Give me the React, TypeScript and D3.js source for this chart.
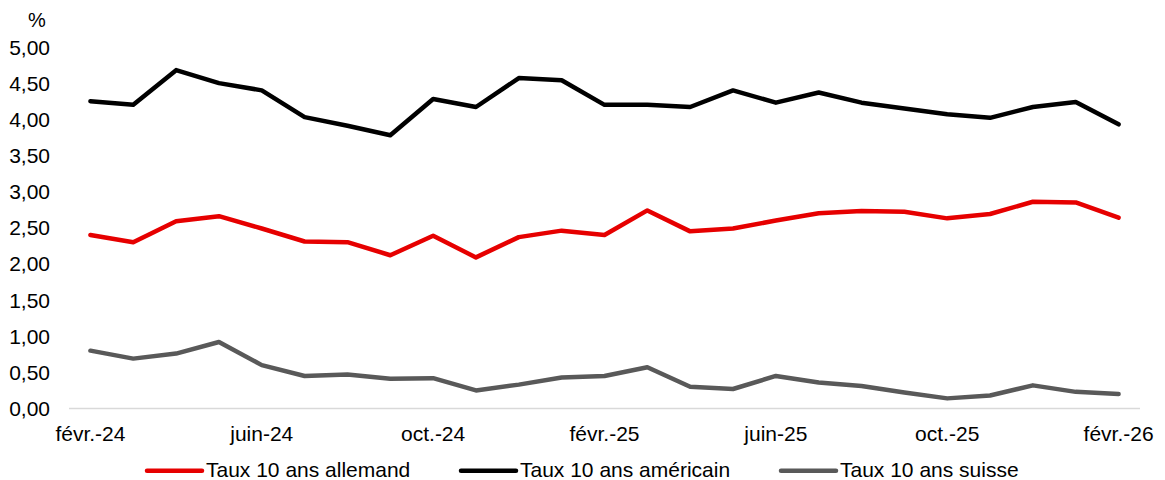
import React from "react";
import * as d3 from "d3";

const months: string[] = [
  "févr.-24", "mars-24", "avr.-24", "mai-24", "juin-24", "juil.-24", "août-24", "sept.-24",
  "oct.-24", "nov.-24", "déc.-24", "janv.-25", "févr.-25", "mars-25", "avr.-25", "mai-25",
  "juin-25", "juil.-25", "août-25", "sept.-25", "oct.-25", "nov.-25", "déc.-25", "janv.-26", "févr.-26",
];

const tauxAllemand: number[] = [
  2.40, 2.30, 2.59, 2.66, 2.49, 2.31, 2.30, 2.12, 2.39, 2.09, 2.37, 2.46, 2.40,
  2.74, 2.45, 2.49, 2.60, 2.70, 2.73, 2.72, 2.63, 2.69, 2.86, 2.85, 2.64,
];
const tauxAmericain: number[] = [
  4.25, 4.20, 4.68, 4.50, 4.40, 4.03, 3.91, 3.78, 4.28, 4.17, 4.57, 4.54, 4.20,
  4.20, 4.17, 4.40, 4.23, 4.37, 4.23, 4.15, 4.07, 4.02, 4.17, 4.24, 3.93,
];
const tauxSuisse: number[] = [
  0.80, 0.69, 0.76, 0.92, 0.60, 0.45, 0.47, 0.41, 0.42, 0.25, 0.33, 0.43, 0.45,
  0.57, 0.30, 0.27, 0.45, 0.36, 0.31, 0.22, 0.14, 0.18, 0.32, 0.23, 0.20,
];

const yTicks: number[] = [0, 0.5, 1, 1.5, 2, 2.5, 3, 3.5, 4, 4.5, 5];
const xTickLabels: string[] = ["févr.-24", "juin-24", "oct.-24", "févr.-25", "juin-25", "oct.-25", "févr.-26"];

const seriesNames: string[] = ["Taux 10 ans allemand", "Taux 10 ans américain", "Taux 10 ans suisse"];
const seriesColors: string[] = ["#e60000", "#000000", "#595959"];

const W = 1165;
const H = 480;
const FONT = "'Liberation Sans', Arial, sans-serif";

export default function App() {
  const series = [tauxAllemand, tauxAmericain, tauxSuisse];
  const x = d3.scaleBand<string>().domain(months).range([69, 1140]).padding(0);
  const y = d3.scaleLinear().domain([0, 5]).range([408.5, 47]);
  const cx = (m: string) => (x(m) ?? 0) + x.bandwidth() / 2;
  const fmt = (v: number) => v.toFixed(2).replace(".", ",");

  const line = d3
    .line<number>()
    .x((_, i) => cx(months[i]))
    .y((d) => y(d));

  const legendItems = [
    { lx: 147, tx: 206 },
    { lx: 461, tx: 520 },
    { lx: 781, tx: 840 },
  ];

  return (
    <svg width={W} height={H} style={{ position: "absolute", left: 0, top: 0 }} fontFamily={FONT}>
      <rect width={W} height={H} fill="#ffffff" />
      <text x={37} y={27} fontSize={20} textAnchor="middle" fill="#000">%</text>
      {yTicks.map((t) => (
        <text key={t} x={50} y={y(t) + 7.5} fontSize={21} textAnchor="end" fill="#000">
          {fmt(t)}
        </text>
      ))}
      <line x1={69} x2={1140} y1={y(0)} y2={y(0)} stroke="#d9d9d9" strokeWidth={1.5} />
      {xTickLabels.map((m) => (
        <text key={m} x={cx(m)} y={441} fontSize={21} textAnchor="middle" fill="#000">
          {m}
        </text>
      ))}
      {series.map((s, i) => (
        <path
          key={seriesNames[i]}
          d={line(s) ?? ""}
          fill="none"
          stroke={seriesColors[i]}
          strokeWidth={4.5}
          strokeLinejoin="round"
          strokeLinecap="round"
        />
      ))}
      {seriesNames.map((n, i) => (
        <g key={n}>
          <line
            x1={legendItems[i].lx}
            x2={legendItems[i].lx + 55}
            y1={470.7}
            y2={470.7}
            stroke={seriesColors[i]}
            strokeWidth={4.5}
            strokeLinecap="round"
          />
          <text x={legendItems[i].tx} y={476.5} fontSize={21} fill="#000">
            {n}
          </text>
        </g>
      ))}
    </svg>
  );
}
